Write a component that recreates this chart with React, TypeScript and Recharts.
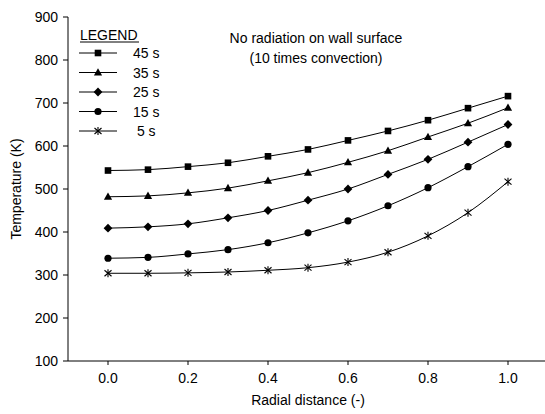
import React from 'react';
import { LineChart, Line, XAxis, YAxis, Customized } from 'recharts';

const radial = [0.0, 0.1, 0.2, 0.3, 0.4, 0.5, 0.6, 0.7, 0.8, 0.9, 1.0];
const t45 = [543, 545, 552, 561, 576, 592, 613, 635, 660, 688, 716];
const t35 = [482, 484, 491, 502, 519, 538, 562, 589, 621, 653, 689];
const t25 = [409, 412, 419, 433, 450, 474, 500, 534, 569, 609, 650];
const t15 = [339, 341, 349, 359, 375, 398, 426, 461, 503, 552, 604];
const t5 = [304, 304, 305, 307, 311, 317, 330, 353, 391, 445, 517];

const yTicks = [100, 200, 300, 400, 500, 600, 700, 800, 900];
const xTicks = [0.0, 0.2, 0.4, 0.6, 0.8, 1.0];
const topTicks = [0.0225, 0.1425, 0.2625, 0.3825, 0.5025, 0.6225, 0.7425, 0.8625, 0.9825];

const series = [
  { key: 't45', name: '45 s', shape: 'square' },
  { key: 't35', name: '35 s', shape: 'triangle' },
  { key: 't25', name: '25 s', shape: 'diamond' },
  { key: 't15', name: '15 s', shape: 'circle' },
  { key: 't5', name: ' 5 s', shape: 'star' },
];

const data = radial.map((r, i) => ({
  r,
  t45: t45[i],
  t35: t35[i],
  t25: t25[i],
  t15: t15[i],
  t5: t5[i],
}));

const FONT = '"Liberation Sans", Arial, sans-serif';
const FS = 14;

const Marker = ({ shape, cx, cy }: { shape: string; cx: number; cy: number }) => {
  if (shape === 'square') {
    return <rect x={cx - 3.3} y={cy - 3.3} width={6.6} height={6.6} fill="#000" />;
  }
  if (shape === 'triangle') {
    return <polygon points={`${cx},${cy - 4.3} ${cx + 4.1},${cy + 3} ${cx - 4.1},${cy + 3}`} fill="#000" />;
  }
  if (shape === 'diamond') {
    return <polygon points={`${cx},${cy - 4.4} ${cx + 4.4},${cy} ${cx},${cy + 4.4} ${cx - 4.4},${cy}`} fill="#000" />;
  }
  if (shape === 'circle') {
    return <circle cx={cx} cy={cy} r={3.6} fill="#000" />;
  }
  return (
    <g stroke="#000" strokeWidth={1.1}>
      <line x1={cx} y1={cy - 4} x2={cx} y2={cy + 4} />
      <line x1={cx - 3.5} y1={cy - 3} x2={cx + 3.5} y2={cy + 3} />
      <line x1={cx - 3.5} y1={cy + 3} x2={cx + 3.5} y2={cy - 3} />
    </g>
  );
};

const makeDot = (shape: string) => (props: any) => {
  const { cx, cy, index } = props;
  return <Marker key={`${shape}-${index}`} shape={shape} cx={cx} cy={cy} />;
};

const Overlay = () => (
  <g fontFamily={FONT} fill="#000">
    {/* legend */}
    <text x={80} y={39.5} fontSize={FS}>LEGEND</text>
    <line x1={80} y1={42} x2={139} y2={42} stroke="#000" strokeWidth={1} />
    {series.map((s, i) => {
      const y = 53 + i * 19.5;
      return (
        <g key={s.key}>
          <line x1={79} y1={y} x2={117} y2={y} stroke="#000" strokeWidth={1} />
          <Marker shape={s.shape} cx={98} cy={y} />
          <text x={133} y={y + 5} fontSize={FS} style={{ whiteSpace: 'pre' }}>
            {s.name}
          </text>
        </g>
      );
    })}
    {/* note */}
    <text x={316} y={43} fontSize={FS} textAnchor="middle">No radiation on wall surface</text>
    <text x={316} y={63} fontSize={FS} textAnchor="middle">(10 times convection)</text>
    {/* axis titles */}
    <text x={308} y={405} fontSize={FS} textAnchor="middle">Radial distance (-)</text>
    <text x={21} y={189} fontSize={FS} textAnchor="middle" transform="rotate(-90 21 189)">
      Temperature (K)
    </text>
  </g>
);

export default function App() {
  return (
    <div style={{ position: 'fixed', left: 0, top: 0, width: 545, height: 414, overflow: 'hidden', background: '#fff' }}>
      <LineChart width={560} height={414} data={data} margin={{ top: 17, right: 12, bottom: 23, left: 0 }}>
        <XAxis
          xAxisId="bottom"
          dataKey="r"
          type="number"
          domain={[-0.1, 1.1]}
          ticks={xTicks}
          tickFormatter={(v: number) => v.toFixed(1)}
          height={30}
          stroke="#000"
          tickSize={4}
          tickMargin={8}
          tick={{ fill: '#000', fontSize: FS, fontFamily: FONT }}
          allowDataOverflow
        />
        <XAxis
          xAxisId="top"
          orientation="top"
          type="number"
          domain={[-0.1, 1.1]}
          ticks={topTicks}
          height={0}
          stroke="#000"
          tickSize={2}
          mirror
          tick={() => <g />}
          allowDataOverflow
        />
        <YAxis
          type="number"
          domain={[100, 900]}
          ticks={yTicks}
          width={68}
          stroke="#000"
          tickSize={5}
          tickMargin={5}
          tick={{ fill: '#000', fontSize: FS, fontFamily: FONT }}
        />
        {series.map((s) => (
          <Line
            key={s.key}
            xAxisId="bottom"
            type="monotone"
            dataKey={s.key}
            stroke="#000"
            strokeWidth={1}
            dot={makeDot(s.shape)}
            activeDot={false}
            isAnimationActive={false}
          />
        ))}
        <Customized component={Overlay} />
      </LineChart>
    </div>
  );
}
